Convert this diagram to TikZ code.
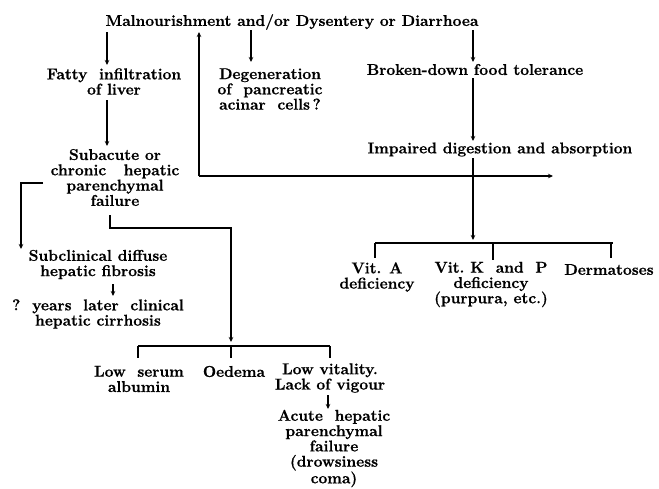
\documentclass[tikz,border=0pt]{standalone}
\usepackage{fontspec}
\setmainfont{Latin Modern Roman}[BoldFeatures={FakeBold=0.8}]
\usetikzlibrary{arrows.meta}
\begin{document}
\begin{tikzpicture}[x=1pt,y=-1pt,
  txt/.style={font=\fontsize{15.6}{15.3}\selectfont\bfseries, align=center, inner sep=0pt, anchor=center},
  ln/.style={line width=1.2pt},
  arr/.style={ln,-{Stealth[length=5pt,width=4.5pt]}}]
\useasboundingbox[fill=white] (0,0) rectangle (659,488);

% nodes
\node[txt] (title) at (292,22) {Malnourishment and/or Dysentery or Diarrhoea};
\node[txt] (fatty) at (114,81.5) {Fatty\ \ infiltration\\of liver};
\node[txt] (degen) at (270,89) {Degeneration\\of\ \ pancreatic\\acinar\ \ cells\,?};
\node[txt] (broken) at (475,69.5) {Broken-down food tolerance};
\node[txt] (impaired) at (500,149.5) {Impaired digestion and absorption};
\node[txt] (subacute) at (115,177.5) {Subacute or\\chronic\ \ \ hepatic\\parenchymal\\failure};
\node[txt] (subclin) at (98,264.5) {Subclinical diffuse\\hepatic fibrosis};
\node[txt] (cirr) at (98,314) {?\ \ years\ \ later\ \ clinical\\hepatic cirrhosis};
\node[txt] (vita) at (377,277) {Vit. A\\deficiency};
\node[txt] (vitk) at (491,284.5) {Vit.\ K\ \ and\ \ P\\deficiency\\(purpura, etc.)};
\node[txt] (derm) at (609,269.5) {Dermatoses};
\node[txt] (albumin) at (139,379) {Low\ \ serum\\albumin};
\node[txt] (oedema) at (234,371.5) {Oedema};
\node[txt] (vital) at (330,378) {Low vitality.\\Lack of vigour};
\node[txt] (acute) at (334,448.5) {Acute\ \ hepatic\\parenchymal\\failure\\(drowsiness\\coma)};

% coordinates for connector bends
\coordinate (loopL) at (199,176);
\coordinate (loopR) at (553,176);
\coordinate (loopT) at (199,32);
\coordinate (brA) at (375,243);
\coordinate (brB) at (613,243);
\coordinate (sbL) at (43,183);
\coordinate (sbC) at (21,183);
\coordinate (sbD) at (21,249);
\coordinate (stA) at (110,215);
\coordinate (stB) at (110,228);
\coordinate (stC) at (231,228);
\coordinate (lbA) at (138,346);
\coordinate (lbB) at (330,346);

% arrows from title
\draw[arr] (107,32) -- (107,65);
\draw[arr] (251,30) -- (251,62);
\draw[arr] (473,30) -- (473,62);
\draw[arr] (473,78) -- (473,141);
\draw[arr] (107,100) -- (107,146);
\draw[arr] (loopL) -- (loopT);
\draw[arr] (loopL) -- (loopR);

% impaired to vitamins
\draw[arr] (473,158) -- (473,240);
\draw[ln] (brA) -- (brB);
\draw[ln] (375,243) -- (375,258);
\draw[ln] (493,243) -- (493,260);
\draw[ln] (611,243) -- (611,258);

% subacute left branch
\draw[arr] (sbL) -- (sbC) -- (sbD);
\draw[arr] (113,284) -- (113,296);

% subacute lower branch
\draw[arr] (stA) -- (stB) -- (stC) -- (231,342);
\draw[ln] (lbA) -- (lbB);
\draw[ln] (138,346) -- (138,358);
\draw[ln] (231,346) -- (231,358);
\draw[ln] (330,346) -- (330,358);
\draw[arr] (328,395) -- (328,409);
\end{tikzpicture}
\end{document}
